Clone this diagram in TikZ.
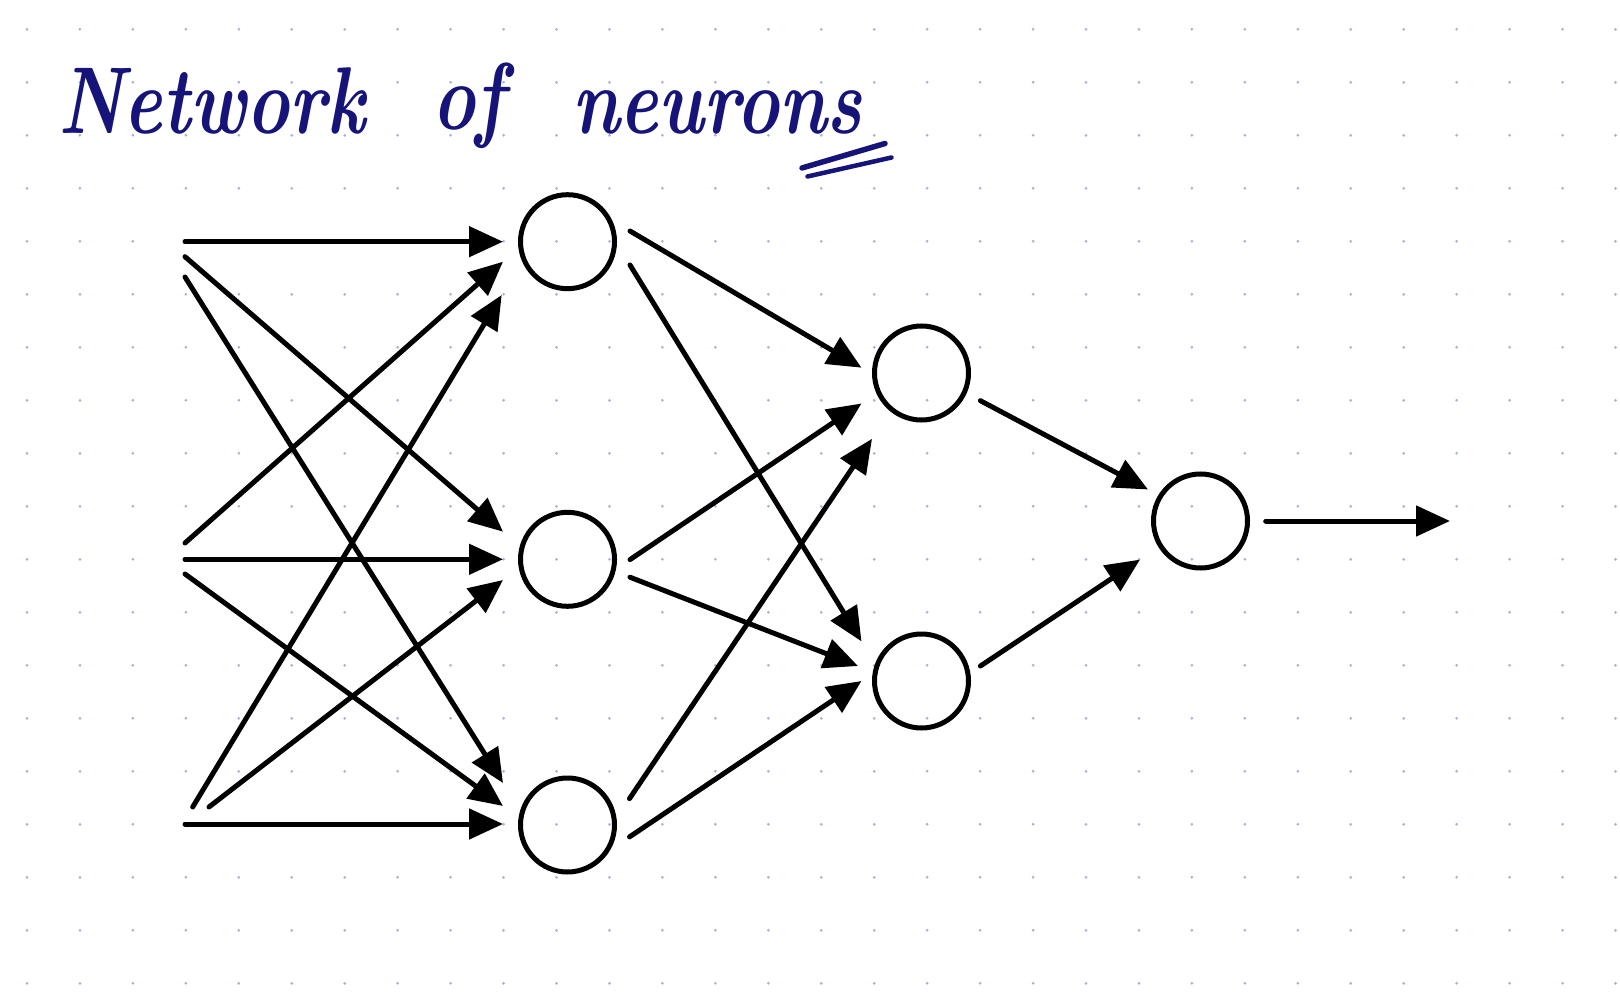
\documentclass[tikz,border=0pt]{standalone}
\usepackage{graphicx}
\usetikzlibrary{arrows.meta}
\definecolor{dotc}{RGB}{165,180,212}
\definecolor{ink}{RGB}{22,20,120}
\newcommand{\tallword}[1]{\scalebox{1}[1.3]{#1}}
\tikzset{
  neuron/.style={circle, draw=black, line width=5pt, minimum size=94pt, inner sep=0pt},
  link/.style={line width=5pt, line cap=round, -{Triangle[length=34pt,width=30pt]}},
  titletext/.style={text=ink, inner sep=0pt, anchor=base west, font=\fontsize{73}{90}\selectfont\bfseries\itshape},
  stroke/.style={draw=ink, line width=5.5pt, line cap=round}
}
\begin{document}
\begin{tikzpicture}[x=1pt,y=-1pt]
\useasboundingbox[fill=white] (0,0) rectangle (1620,992);
% dot grid
\foreach \i in {0,...,30}{
  \foreach \j in {0,...,18}{
    \fill[dotc] ({27+52.95*\i},{29.3+53*\j}) circle (1.5pt);
  }
}
% title
\node[titletext] (w1) at (58,134) {\tallword{Network}};
\node[titletext] (w2) at (432,130) {\tallword{of}};
\node[titletext] (w3) at (572,134) {\tallword{neurons}};
\coordinate (u1a) at (802,168);
\coordinate (u1b) at (885,143.5);
\coordinate (u2a) at (807.5,176.5);
\coordinate (u2b) at (891.5,157.5);
\draw[stroke] (u1a) -- (u1b);
\draw[stroke, line width=4.5pt] (u2a) -- (u2b);
% neurons
\node[neuron] (n1) at (567.5,241.7) {};
\node[neuron] (n2) at (567.5,559.3) {};
\node[neuron] (n3) at (567.5,825) {};
\node[neuron] (n4) at (921.5,373) {};
\node[neuron] (n5) at (921.5,681) {};
\node[neuron] (n6) at (1200.5,521) {};
% input free ends
\coordinate (iA) at (185,241.7);
\coordinate (iB) at (185,256.7);
\coordinate (iC) at (185,277);
\coordinate (iD) at (185,543);
\coordinate (iE) at (185,559.3);
\coordinate (iF) at (185,574);
\coordinate (iG) at (192.7,807);
\coordinate (iH) at (209,807);
\coordinate (iI) at (185,824);
% arrow tips near layer 1
\coordinate (tA) at (503,241.7);
\coordinate (tB) at (503,531.7);
\coordinate (tC) at (503,783);
\coordinate (tD) at (503,261.7);
\coordinate (tE) at (503,559.3);
\coordinate (tF) at (503,806);
\coordinate (tG) at (501.7,295);
\coordinate (tH) at (503,580);
\coordinate (tI) at (503,824);
\draw[link] (iA) -- (tA);
\draw[link] (iB) -- (tB);
\draw[link] (iC) -- (tC);
\draw[link] (iD) -- (tD);
\draw[link] (iE) -- (tE);
\draw[link] (iF) -- (tF);
\draw[link] (iG) -- (tG);
\draw[link] (iH) -- (tH);
\draw[link] (iI) -- (tI);
% layer 1 -> layer 2
\coordinate (s14) at (630,231);
\coordinate (e14) at (861.5,367.7);
\coordinate (s15) at (630,265);
\coordinate (e15) at (861.5,641.4);
\coordinate (s24) at (630,559.6);
\coordinate (e24) at (861.5,403.5);
\coordinate (s25) at (630,577.2);
\coordinate (e25) at (858,666);
\coordinate (s34) at (629.5,798.6);
\coordinate (e34) at (872,438.8);
\coordinate (s35) at (629.5,836.9);
\coordinate (e35) at (861.5,681);
\draw[link] (s14) -- (e14);
\draw[link] (s15) -- (e15);
\draw[link] (s24) -- (e24);
\draw[link] (s25) -- (e25);
\draw[link] (s34) -- (e34);
\draw[link] (s35) -- (e35);
% layer 2 -> output
\coordinate (s46) at (980.4,400.7);
\coordinate (e46) at (1148,489.5);
\coordinate (s56) at (980.4,666);
\coordinate (e56) at (1140,559.6);
\draw[link] (s46) -- (e46);
\draw[link] (s56) -- (e56);
\coordinate (so) at (1265.7,521);
\coordinate (eo) at (1450,521);
\draw[link] (so) -- (eo);
\end{tikzpicture}
\end{document}
